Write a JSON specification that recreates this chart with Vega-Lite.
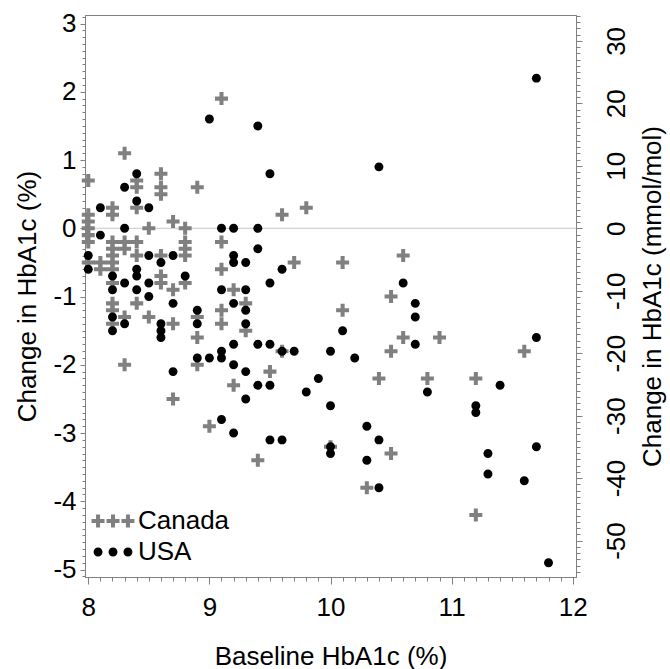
{
  "$schema": "https://vega.github.io/schema/vega-lite/v6.json",
  "width": 491,
  "height": 562,
  "autosize": {"type": "none"},
  "padding": {"left": 85, "top": 15, "right": 94, "bottom": 92},
  "background": "white",
  "config": {
    "view": {"stroke": "#808080", "strokeWidth": 1},
    "font": "Liberation Sans",
    "axis": {
      "labelFont": "Liberation Sans", "titleFont": "Liberation Sans",
      "labelFontSize": 26, "titleFontSize": 26, "titleFontWeight": "normal",
      "domainColor": "#808080", "tickColor": "#808080",
      "labelColor": "#000000", "titleColor": "#000000",
      "grid": false, "labelOverlap": false, "labelFlush": false, "labelBound": false
    }
  },
  "data": {"values": [
    {"country":"Canada","baseline":8.0,"change":0.7},{"country":"Canada","baseline":8.0,"change":0.2},{"country":"Canada","baseline":8.0,"change":0.1},{"country":"Canada","baseline":8.0,"change":0.0},{"country":"Canada","baseline":8.0,"change":-0.1},{"country":"Canada","baseline":8.0,"change":-0.2},{"country":"Canada","baseline":8.0,"change":-0.5},
    {"country":"Canada","baseline":8.1,"change":-0.5},{"country":"Canada","baseline":8.1,"change":-0.6},
    {"country":"Canada","baseline":8.2,"change":0.3},{"country":"Canada","baseline":8.2,"change":0.2},{"country":"Canada","baseline":8.2,"change":-0.2},{"country":"Canada","baseline":8.2,"change":-0.3},{"country":"Canada","baseline":8.2,"change":-0.4},{"country":"Canada","baseline":8.2,"change":-0.5},{"country":"Canada","baseline":8.2,"change":-0.6},{"country":"Canada","baseline":8.2,"change":-0.8},{"country":"Canada","baseline":8.2,"change":-1.1},{"country":"Canada","baseline":8.2,"change":-1.2},{"country":"Canada","baseline":8.2,"change":-1.4},
    {"country":"Canada","baseline":8.3,"change":1.1},{"country":"Canada","baseline":8.3,"change":-0.2},{"country":"Canada","baseline":8.3,"change":-0.3},{"country":"Canada","baseline":8.3,"change":-1.3},{"country":"Canada","baseline":8.3,"change":-2.0},
    {"country":"Canada","baseline":8.4,"change":0.7},{"country":"Canada","baseline":8.4,"change":0.6},{"country":"Canada","baseline":8.4,"change":0.3},{"country":"Canada","baseline":8.4,"change":-0.2},{"country":"Canada","baseline":8.4,"change":-0.4},{"country":"Canada","baseline":8.4,"change":-1.1},
    {"country":"Canada","baseline":8.5,"change":0.0},{"country":"Canada","baseline":8.5,"change":-1.3},
    {"country":"Canada","baseline":8.6,"change":0.8},{"country":"Canada","baseline":8.6,"change":0.6},{"country":"Canada","baseline":8.6,"change":0.5},{"country":"Canada","baseline":8.6,"change":-0.4},{"country":"Canada","baseline":8.6,"change":-0.7},{"country":"Canada","baseline":8.6,"change":-0.8},
    {"country":"Canada","baseline":8.7,"change":0.1},{"country":"Canada","baseline":8.7,"change":-0.9},{"country":"Canada","baseline":8.7,"change":-1.4},{"country":"Canada","baseline":8.7,"change":-2.5},
    {"country":"Canada","baseline":8.8,"change":0.0},{"country":"Canada","baseline":8.8,"change":-0.2},{"country":"Canada","baseline":8.8,"change":-0.3},{"country":"Canada","baseline":8.8,"change":-0.4},{"country":"Canada","baseline":8.8,"change":-0.8},
    {"country":"Canada","baseline":8.9,"change":0.6},{"country":"Canada","baseline":8.9,"change":-1.3},{"country":"Canada","baseline":8.9,"change":-1.6},{"country":"Canada","baseline":8.9,"change":-2.0},
    {"country":"Canada","baseline":9.0,"change":-2.9},
    {"country":"Canada","baseline":9.1,"change":1.9},{"country":"Canada","baseline":9.1,"change":-0.2},{"country":"Canada","baseline":9.1,"change":-0.6},{"country":"Canada","baseline":9.1,"change":-1.2},{"country":"Canada","baseline":9.1,"change":-1.4},
    {"country":"Canada","baseline":9.2,"change":-0.9},{"country":"Canada","baseline":9.2,"change":-2.3},
    {"country":"Canada","baseline":9.3,"change":-1.1},{"country":"Canada","baseline":9.3,"change":-1.5},
    {"country":"Canada","baseline":9.4,"change":-3.4},
    {"country":"Canada","baseline":9.5,"change":-2.1},
    {"country":"Canada","baseline":9.6,"change":0.2},{"country":"Canada","baseline":9.6,"change":-1.8},
    {"country":"Canada","baseline":9.7,"change":-0.5},
    {"country":"Canada","baseline":9.8,"change":0.3},
    {"country":"Canada","baseline":10.0,"change":-3.2},
    {"country":"Canada","baseline":10.1,"change":-0.5},{"country":"Canada","baseline":10.1,"change":-1.2},
    {"country":"Canada","baseline":10.3,"change":-3.8},
    {"country":"Canada","baseline":10.4,"change":-2.2},
    {"country":"Canada","baseline":10.5,"change":-1.0},{"country":"Canada","baseline":10.5,"change":-1.8},{"country":"Canada","baseline":10.5,"change":-3.3},
    {"country":"Canada","baseline":10.6,"change":-0.4},{"country":"Canada","baseline":10.6,"change":-1.6},
    {"country":"Canada","baseline":10.8,"change":-2.2},
    {"country":"Canada","baseline":10.9,"change":-1.6},
    {"country":"Canada","baseline":11.2,"change":-2.2},{"country":"Canada","baseline":11.2,"change":-4.2},
    {"country":"Canada","baseline":11.6,"change":-1.8},
    {"country":"USA","baseline":8.0,"change":-0.4},{"country":"USA","baseline":8.0,"change":-0.6},
    {"country":"USA","baseline":8.1,"change":0.3},{"country":"USA","baseline":8.1,"change":-0.1},
    {"country":"USA","baseline":8.2,"change":-0.7},{"country":"USA","baseline":8.2,"change":-0.9},{"country":"USA","baseline":8.2,"change":-1.3},{"country":"USA","baseline":8.2,"change":-1.5},
    {"country":"USA","baseline":8.3,"change":0.6},{"country":"USA","baseline":8.3,"change":0.0},{"country":"USA","baseline":8.3,"change":-0.8},{"country":"USA","baseline":8.3,"change":-1.4},
    {"country":"USA","baseline":8.4,"change":0.8},{"country":"USA","baseline":8.4,"change":0.4},{"country":"USA","baseline":8.4,"change":-0.6},{"country":"USA","baseline":8.4,"change":-0.7},{"country":"USA","baseline":8.4,"change":-0.9},
    {"country":"USA","baseline":8.5,"change":0.3},{"country":"USA","baseline":8.5,"change":-0.4},{"country":"USA","baseline":8.5,"change":-0.8},{"country":"USA","baseline":8.5,"change":-1.0},
    {"country":"USA","baseline":8.6,"change":-0.5},{"country":"USA","baseline":8.6,"change":-1.4},{"country":"USA","baseline":8.6,"change":-1.5},{"country":"USA","baseline":8.6,"change":-1.6},
    {"country":"USA","baseline":8.7,"change":-0.4},{"country":"USA","baseline":8.7,"change":-1.1},{"country":"USA","baseline":8.7,"change":-2.1},
    {"country":"USA","baseline":8.8,"change":-0.7},
    {"country":"USA","baseline":8.9,"change":-1.2},{"country":"USA","baseline":8.9,"change":-1.4},{"country":"USA","baseline":8.9,"change":-1.9},
    {"country":"USA","baseline":9.0,"change":1.6},{"country":"USA","baseline":9.0,"change":-1.9},
    {"country":"USA","baseline":9.1,"change":0.0},{"country":"USA","baseline":9.1,"change":-0.9},{"country":"USA","baseline":9.1,"change":-1.8},{"country":"USA","baseline":9.1,"change":-1.9},{"country":"USA","baseline":9.1,"change":-2.8},
    {"country":"USA","baseline":9.2,"change":0.0},{"country":"USA","baseline":9.2,"change":-0.4},{"country":"USA","baseline":9.2,"change":-0.5},{"country":"USA","baseline":9.2,"change":-1.1},{"country":"USA","baseline":9.2,"change":-1.7},{"country":"USA","baseline":9.2,"change":-2.0},{"country":"USA","baseline":9.2,"change":-3.0},
    {"country":"USA","baseline":9.3,"change":-0.5},{"country":"USA","baseline":9.3,"change":-0.9},{"country":"USA","baseline":9.3,"change":-1.2},{"country":"USA","baseline":9.3,"change":-1.4},{"country":"USA","baseline":9.3,"change":-2.1},{"country":"USA","baseline":9.3,"change":-2.5},
    {"country":"USA","baseline":9.4,"change":1.5},{"country":"USA","baseline":9.4,"change":0.0},{"country":"USA","baseline":9.4,"change":-0.3},{"country":"USA","baseline":9.4,"change":-1.7},{"country":"USA","baseline":9.4,"change":-2.3},
    {"country":"USA","baseline":9.5,"change":0.8},{"country":"USA","baseline":9.5,"change":-0.8},{"country":"USA","baseline":9.5,"change":-1.7},{"country":"USA","baseline":9.5,"change":-2.3},{"country":"USA","baseline":9.5,"change":-3.1},
    {"country":"USA","baseline":9.6,"change":-0.6},{"country":"USA","baseline":9.6,"change":-1.8},{"country":"USA","baseline":9.6,"change":-3.1},
    {"country":"USA","baseline":9.7,"change":-1.8},
    {"country":"USA","baseline":9.8,"change":-2.4},
    {"country":"USA","baseline":9.9,"change":-2.2},
    {"country":"USA","baseline":10.0,"change":-1.8},{"country":"USA","baseline":10.0,"change":-2.6},{"country":"USA","baseline":10.0,"change":-3.2},{"country":"USA","baseline":10.0,"change":-3.3},
    {"country":"USA","baseline":10.1,"change":-1.5},
    {"country":"USA","baseline":10.2,"change":-1.9},
    {"country":"USA","baseline":10.3,"change":-2.9},{"country":"USA","baseline":10.3,"change":-3.4},
    {"country":"USA","baseline":10.4,"change":0.9},{"country":"USA","baseline":10.4,"change":-3.1},{"country":"USA","baseline":10.4,"change":-3.8},
    {"country":"USA","baseline":10.6,"change":-0.8},
    {"country":"USA","baseline":10.7,"change":-1.1},{"country":"USA","baseline":10.7,"change":-1.3},{"country":"USA","baseline":10.7,"change":-1.7},
    {"country":"USA","baseline":10.8,"change":-2.4},
    {"country":"USA","baseline":11.2,"change":-2.6},{"country":"USA","baseline":11.2,"change":-2.7},
    {"country":"USA","baseline":11.3,"change":-3.3},{"country":"USA","baseline":11.3,"change":-3.6},
    {"country":"USA","baseline":11.4,"change":-2.3},
    {"country":"USA","baseline":11.6,"change":-3.7},
    {"country":"USA","baseline":11.7,"change":2.2},{"country":"USA","baseline":11.7,"change":-1.6},{"country":"USA","baseline":11.7,"change":-3.2},
    {"country":"USA","baseline":11.8,"change":-4.9}
  ]},
  "layer": [
    {
      "data": {"values": [{}]},
      "mark": {"type": "rule", "color": "#c8c8c8", "strokeWidth": 1},
      "encoding": {"y": {"datum": 0, "type": "quantitative", "scale": {"domain": [-5.109, 3.125], "nice": false, "zero": false}, "axis": null}}
    },
    {
      "mark": {"type": "point", "filled": true, "size": 169, "opacity": 1, "strokeWidth": 0},
      "encoding": {
        "x": {
          "field": "baseline", "type": "quantitative",
          "scale": {"domain": [7.973, 12.027], "nice": false, "zero": false},
          "axis": {
            "title": "Baseline HbA1c (%)",
            "values": [8,8.1,8.2,8.3,8.4,8.5,8.6,8.7,8.8,8.9,9,9.1,9.2,9.3,9.4,9.5,9.6,9.7,9.8,9.9,10,10.1,10.2,10.3,10.4,10.5,10.6,10.7,10.8,10.9,11,11.1,11.2,11.3,11.4,11.5,11.6,11.7,11.8,11.9,12],
            "labelExpr": "datum.value % 1 === 0 ? '' + datum.value : ''",
            "tickSize": {"condition": {"test": "datum.value % 1 === 0", "value": 7}, "value": 4},
            "labelPadding": 10, "titlePadding": 23
          }
        },
        "y": {
          "field": "change", "type": "quantitative",
          "scale": {"domain": [-5.109, 3.125], "nice": false, "zero": false},
          "axis": {
            "title": "Change in HbA1c (%)",
            "values": [-5.1,-5,-4.9,-4.8,-4.7,-4.6,-4.5,-4.4,-4.3,-4.2,-4.1,-4,-3.9,-3.8,-3.7,-3.6,-3.5,-3.4,-3.3,-3.2,-3.1,-3,-2.9,-2.8,-2.7,-2.6,-2.5,-2.4,-2.3,-2.2,-2.1,-2,-1.9,-1.8,-1.7,-1.6,-1.5,-1.4,-1.3,-1.2,-1.1,-1,-0.9,-0.8,-0.7,-0.6,-0.5,-0.4,-0.3,-0.2,-0.1,0,0.1,0.2,0.3,0.4,0.5,0.6,0.7,0.8,0.9,1,1.1,1.2,1.3,1.4,1.5,1.6,1.7,1.8,1.9,2,2.1,2.2,2.3,2.4,2.5,2.6,2.7,2.8,2.9,3,3.1],
            "labelExpr": "datum.value % 1 === 0 ? '' + datum.value : ''",
            "tickSize": {"condition": {"test": "datum.value % 1 === 0", "value": 5}, "value": 3},
            "labelPadding": 4, "titlePadding": 12
          }
        },
        "color": {
          "field": "country", "type": "nominal",
          "scale": {"domain": ["Canada", "USA"], "range": ["#808080", "#000000"]},
          "legend": null
        },
        "shape": {
          "field": "country", "type": "nominal",
          "scale": {"domain": ["Canada", "USA"], "range": ["M-1,-0.31H-0.31V-1H0.31V-0.31H1V0.31H0.31V1H-0.31V0.31H-1Z", "M-0.69,0A0.69,0.69,0,1,0,0.69,0A0.69,0.69,0,1,0,-0.69,0Z"]},
          "legend": null
        }
      }
    },
    {
      "data": {"values": [{"group": "Canada"}, {"group": "USA"}]},
      "mark": {"type": "point", "filled": true, "size": 0, "opacity": 1, "strokeWidth": 0},
      "encoding": {
        "color": {
          "field": "group", "type": "nominal",
          "scale": {"domain": ["Canada", "USA"], "range": ["#808080", "#000000"]},
          "legend": {
            "title": null, "orient": "none", "legendX": 15, "legendY": 493,
            "padding": 0, "labelFont": "Liberation Sans", "labelFontSize": 26, "labelColor": "#000000",
            "labelOffset": 12, "rowPadding": 5, "symbolSize": 169, "symbolStrokeWidth": 0
          }
        },
        "shape": {
          "field": "group", "type": "nominal",
          "scale": {"domain": ["Canada", "USA"], "range": ["M-3.3,-0.31H-2.61V-1H-1.99V-0.31H-1.3V0.31H-1.99V1H-2.61V0.31H-3.3Z M-1,-0.31H-0.31V-1H0.31V-0.31H1V0.31H0.31V1H-0.31V0.31H-1Z M1.3,-0.31H1.99V-1H2.61V-0.31H3.3V0.31H2.61V1H1.99V0.31H1.3Z", "M-2.99,0A0.69,0.69,0,1,0,-1.61,0A0.69,0.69,0,1,0,-2.99,0Z M-0.69,0A0.69,0.69,0,1,0,0.69,0A0.69,0.69,0,1,0,-0.69,0Z M1.61,0A0.69,0.69,0,1,0,2.99,0A0.69,0.69,0,1,0,1.61,0Z"]},
          "legend": {
            "title": null, "orient": "none", "legendX": 15, "legendY": 493,
            "padding": 0, "labelFont": "Liberation Sans", "labelFontSize": 26, "labelColor": "#000000",
            "labelOffset": 12, "rowPadding": 5, "symbolSize": 169, "symbolStrokeWidth": 0
          }
        }
      }
    },
    {
      "data": {"values": [{}]},
      "mark": {"type": "point", "opacity": 0},
      "encoding": {
        "y": {
          "datum": 0, "type": "quantitative",
          "scale": {"domain": [-55.84, 34.15], "nice": false, "zero": false},
          "axis": {
            "orient": "right",
            "title": "Change in HbA1c (mmol/mol)",
            "titleAngle": 270, "titleBaseline": "top",
            "values": [-55,-54,-53,-52,-51,-50,-49,-48,-47,-46,-45,-44,-43,-42,-41,-40,-39,-38,-37,-36,-35,-34,-33,-32,-31,-30,-29,-28,-27,-26,-25,-24,-23,-22,-21,-20,-19,-18,-17,-16,-15,-14,-13,-12,-11,-10,-9,-8,-7,-6,-5,-4,-3,-2,-1,0,1,2,3,4,5,6,7,8,9,10,11,12,13,14,15,16,17,18,19,20,21,22,23,24,25,26,27,28,29,30,31,32,33,34],
            "labelExpr": "datum.value % 10 === 0 ? '' + datum.value : ''",
            "labelAngle": 270, "labelAlign": "center", "labelBaseline": "top",
            "tickSize": {"condition": {"test": "datum.value % 10 === 0", "value": 6}, "value": 4},
            "labelPadding": 21, "titlePadding": 10
          }
        }
      }
    }
  ],
  "resolve": {
    "scale": {"y": "independent", "color": "independent", "shape": "independent"},
    "axis": {"y": "independent"},
    "legend": {"color": "independent", "shape": "independent"}
  }
}
